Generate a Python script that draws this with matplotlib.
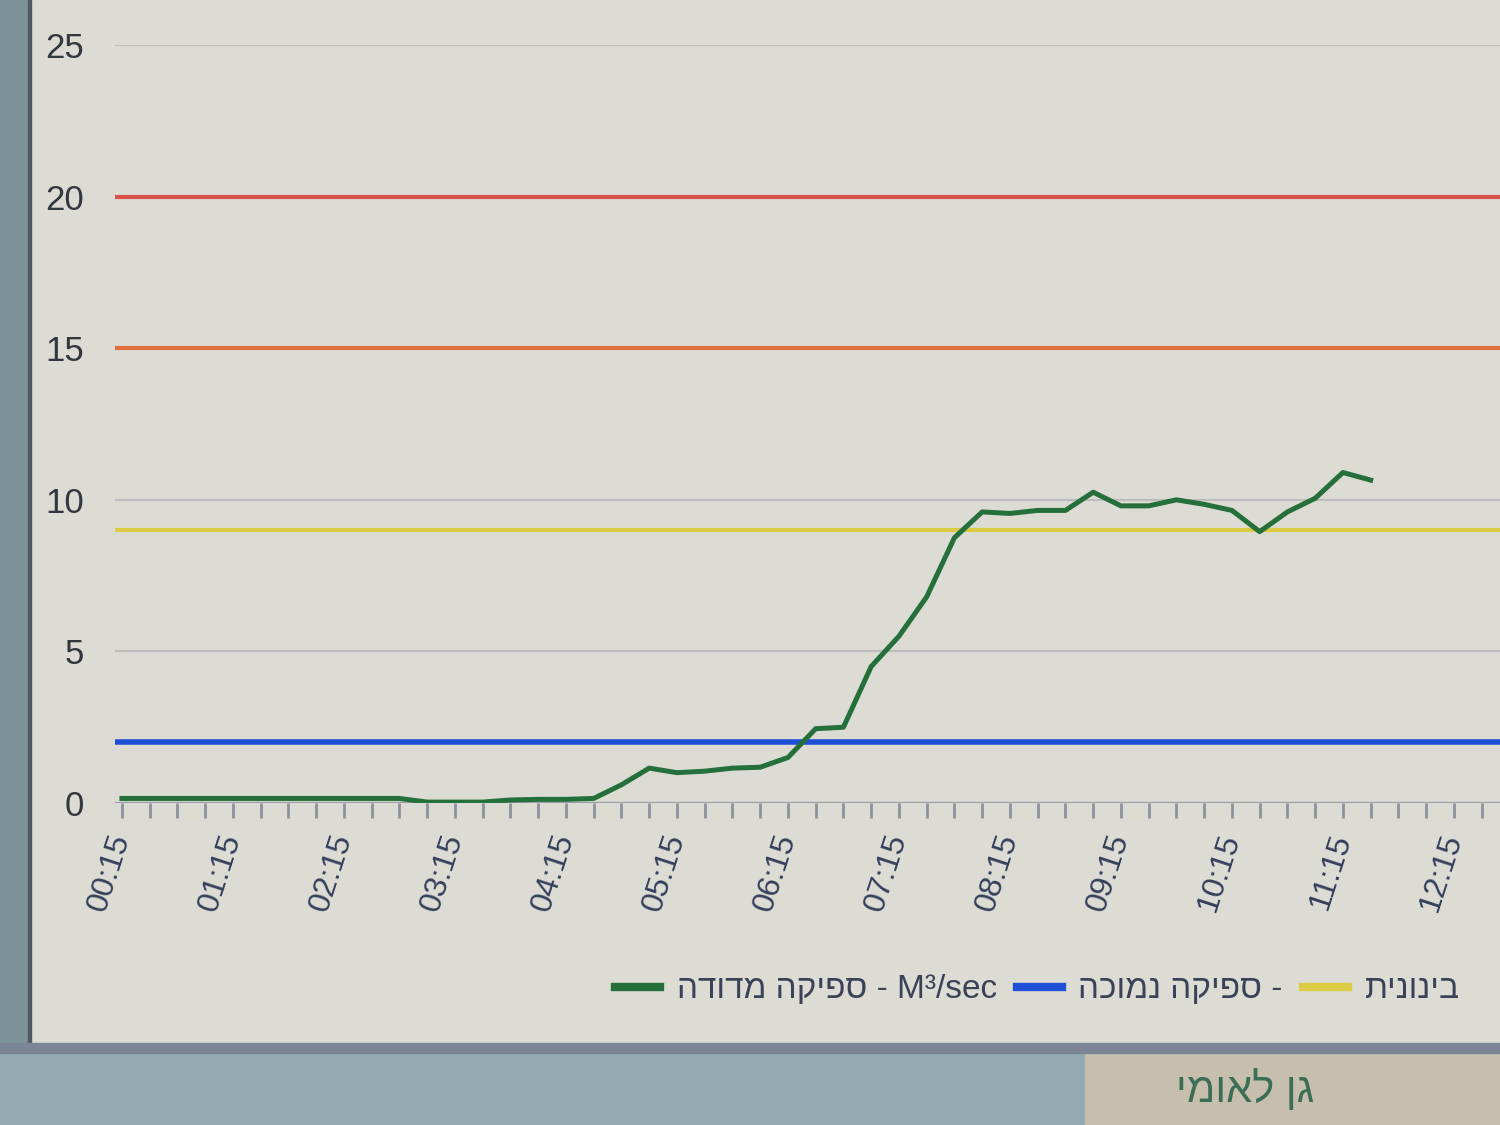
import numpy as np
import matplotlib
matplotlib.use("Agg")
import matplotlib.pyplot as plt
from matplotlib.patches import Rectangle

plt.rcParams['font.family'] = ['Liberation Sans', 'DejaVu Sans']

# measured flow (m3/sec), one value every 15 minutes from 00:15
flow = [0.15, 0.15, 0.15, 0.15, 0.15, 0.15, 0.15, 0.15, 0.15, 0.15, 0.15,
        0.03, 0.03, 0.03, 0.1, 0.12, 0.12, 0.15, 0.6, 1.15, 1.0, 1.05,
        1.15, 1.18, 1.5, 2.45, 2.5, 4.5, 5.5, 6.8, 8.75, 9.6, 9.55, 9.65,
        9.65, 10.25, 9.8, 9.8, 10.0, 9.85, 9.65, 8.95, 9.6, 10.05, 10.9, 10.65]

tick_labels = ["00:15", "01:15", "02:15", "03:15", "04:15", "05:15", "06:15",
               "07:15", "08:15", "09:15", "10:15", "11:15", "12:15"]

# threshold lines
low_flow = 2
mid_flow = 9
high_flow = 15
vhigh_flow = 20

# legend text (hebrew written in visual order)
lbl_measured = "הדודמ הקיפס - M³/sec"
lbl_low = "הכומנ הקיפס -"
lbl_mid = "תינוניב"
footer = "ימואל ןג"

bg = '#dddcd4'
fig = plt.figure(figsize=(15, 11.25), dpi=100, facecolor=bg)

# screen frame bits around the chart
fig.patches.append(Rectangle((0, 0), 28/1500, 1, transform=fig.transFigure,
                             color='#7d939a', zorder=0))
fig.patches.append(Rectangle((28/1500, 0), 3/1500, 1, transform=fig.transFigure,
                             color='#4f5a60', zorder=0))
fig.patches.append(Rectangle((0, 0), 1, 80/1125, transform=fig.transFigure,
                             color='#93aab2', zorder=0))
fig.patches.append(Rectangle((1085/1500, 0), 415/1500, 72/1125, transform=fig.transFigure,
                             color='#c7bfae', zorder=0))
fig.patches.append(Rectangle((0, 72/1125), 1, 10/1125, transform=fig.transFigure,
                             color='#7b8596', zorder=0))
fig.text(1245/1500, 1 - 1090/1125, footer, fontsize=30, color='#3c6e55',
         ha='center', va='center')

ax = fig.add_axes([115/1500, 1 - 803/1125, 1 - 115/1500, 758/1125])
ax.set_facecolor('none')

x = np.arange(len(flow))
ax.set_xlim(-0.25, 49.66)
ax.set_ylim(0, 25)

for g in [5, 10, 25]:
    ax.axhline(g, color='#bdbdbd', lw=1.6, zorder=1)
ax.axhline(0, color='#9a9ca6', lw=2.4, zorder=1)

ax.axhline(vhigh_flow, color='#d9534c', lw=3, zorder=2)
ax.axhline(high_flow, color='#e2703f', lw=3, zorder=2)
mid_line = ax.axhline(mid_flow, color='#dccb45', lw=3, zorder=2, label=lbl_mid)
low_line = ax.axhline(low_flow, color='#1f4fd6', lw=4, zorder=2, label=lbl_low)
flow_line, = ax.plot(x, flow, color='#25703a', lw=3.6, zorder=3, label=lbl_measured)

for s in ax.spines.values():
    s.set_visible(False)

ax.set_yticks([0, 5, 10, 15, 20, 25])
ax.tick_params(axis='y', length=0, pad=22, labelsize=25, labelcolor='#333840')

ax.set_xticks(np.arange(0, 50))
ax.set_xticklabels([tick_labels[i // 4] if i % 4 == 0 else "" for i in range(50)])
ax.tick_params(axis='x', length=11, width=2, color='#8d919c', pad=12,
               labelsize=23, labelcolor='#34405c')
for t in ax.get_xticklabels():
    t.set_rotation(72)
    t.set_ha('right')
    t.set_va('center')
    t.set_rotation_mode('anchor')

ax.legend(handles=[flow_line, low_line, mid_line], ncol=3, frameon=False,
          loc='center left', bbox_to_anchor=(615/1500, 1 - 990/1125),
          bbox_transform=fig.transFigure, fontsize=24, labelcolor='#3b4258',
          handlelength=1.35, handletextpad=0.5, columnspacing=0.6,
          borderpad=0, borderaxespad=0)
for h in ax.get_legend().get_lines():
    h.set_linewidth(6)

fig.savefig('out.png', dpi=100, facecolor=bg)
